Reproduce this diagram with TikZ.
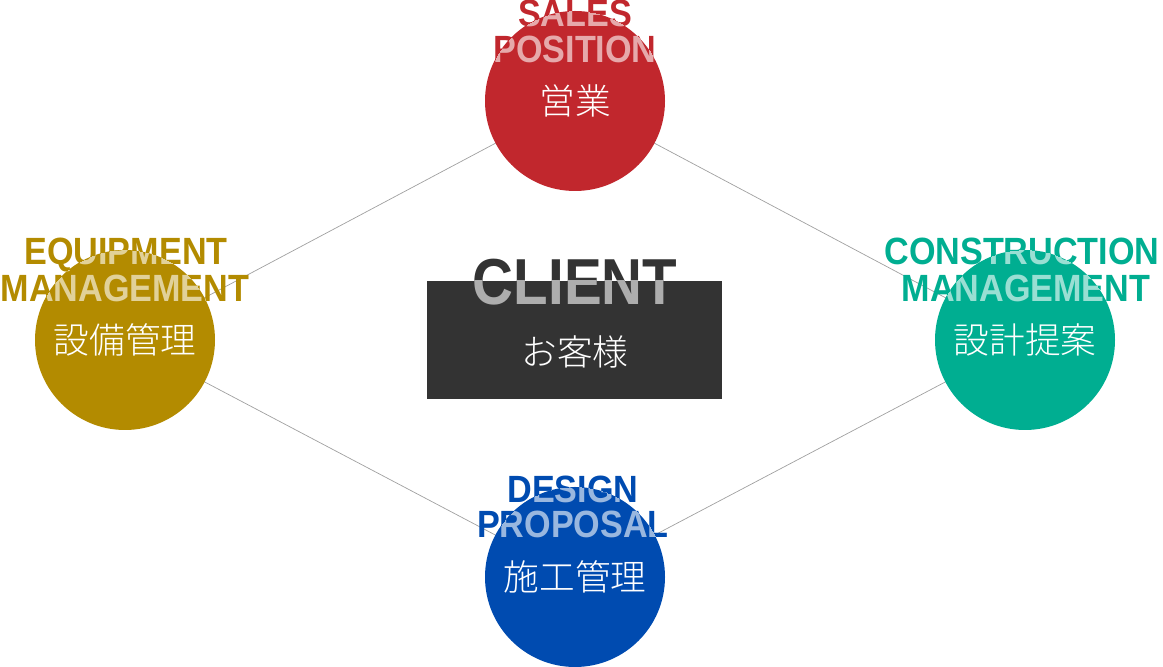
\documentclass[tikz,border=0pt]{standalone}
\usepackage{fontspec}
\usepackage{tikz}
\usetikzlibrary{backgrounds}
\newfontfamily\headfont[FakeStretch=0.9]{Liberation Sans}
\newfontfamily\clientfont[FakeStretch=0.87]{Liberation Sans}
\newfontfamily\jpfont{Noto Sans CJK JP Light}
\definecolor{salesred}{HTML}{C1272D}
\definecolor{equipgold}{HTML}{B38B00}
\definecolor{constrteal}{HTML}{00AE91}
\definecolor{designblue}{HTML}{004BB0}
\definecolor{clientgray}{HTML}{333333}
\definecolor{linkgray}{HTML}{A0A0A0}

\begin{document}
\begin{tikzpicture}[
    spot/.style={circle, fill=#1, minimum size=3.6cm, inner sep=0pt},
    head/.style={anchor=base, text=#1, inner sep=0pt, font=\headfont\bfseries\fontsize{21.6}{22}\selectfont},
    jp/.style={text=white, inner sep=0pt, font=\jpfont\fontsize{20.3}{21}\selectfont}]
    \useasboundingbox (0,0) rectangle (23.26,13.34);

    % the four roles and the client
    \node[spot=salesred] (sales) at (11.5, 11.32) {};
    \node[spot=equipgold] (equip) at (2.5, 6.54) {};
    \node[spot=constrteal] (constr) at (20.5, 6.54) {};
    \node[spot=designblue] (design) at (11.5, 1.8) {};
    \node[fill=clientgray, minimum width=5.9cm, minimum height=2.36cm, inner sep=0pt] (client) at (11.49, 6.54) {};

    \begin{scope}[on background layer]
      \draw[linkgray, line width=0.4pt] (sales.center) -- (equip.center) -- (design.center) -- (constr.center) -- (sales.center);
    \end{scope}

    \node[jp] (salesjp) at (sales) {営業};
    \node[jp] (equipjp) at (equip) {設備管理};
    \node[jp] (constrjp) at (constr) {設計提案};
    \node[jp] (designjp) at (design) {施工管理};
    \node[jp] (clientjp) at (11.5, 6.3) {お客様};

    % english titles
    \node[head=salesred] (sales1) at (11.5, 12.80) {SALES};
    \node[head=salesred] (sales2) at (11.5, 12.08) {POSITION};
    \node[head=equipgold] (equip1) at (2.52, 8.04) {EQUIPMENT};
    \node[head=equipgold] (equip2) at (2.5, 7.30) {MANAGEMENT};
    \node[head=constrteal] (constr1) at (20.44, 8.04) {CONSTRUCTION};
    \node[head=constrteal] (constr2) at (20.52, 7.30) {MANAGEMENT};
    \node[head=designblue] (design1) at (11.46, 3.28) {DESIGN};
    \node[head=designblue] (design2) at (11.46, 2.58) {PROPOSAL};
    \node[head=clientgray, font=\clientfont\bfseries\fontsize{37}{37}\selectfont] (client1) at (11.5, 7.24) {CLIENT};

    % lighter copies where the titles cross the shapes
    \begin{scope}
      \clip (sales.center) circle (1.8);
      \node[head=salesred!40!white] at (sales1.base) {SALES};
      \node[head=salesred!40!white] at (sales2.base) {POSITION};
    \end{scope}
    \begin{scope}
      \clip (equip.center) circle (1.8);
      \node[head=equipgold!40!white] at (equip1.base) {EQUIPMENT};
      \node[head=equipgold!40!white] at (equip2.base) {MANAGEMENT};
    \end{scope}
    \begin{scope}
      \clip (constr.center) circle (1.8);
      \node[head=constrteal!40!white] at (constr1.base) {CONSTRUCTION};
      \node[head=constrteal!40!white] at (constr2.base) {MANAGEMENT};
    \end{scope}
    \begin{scope}
      \clip (design.center) circle (1.8);
      \node[head=designblue!40!white] at (design1.base) {DESIGN};
      \node[head=designblue!40!white] at (design2.base) {PROPOSAL};
    \end{scope}
    \begin{scope}
      \clip (client.south west) rectangle (client.north east);
      \node[head=clientgray!40!white, font=\clientfont\bfseries\fontsize{37}{37}\selectfont] at (client1.base) {CLIENT};
    \end{scope}
\end{tikzpicture}
\end{document}
